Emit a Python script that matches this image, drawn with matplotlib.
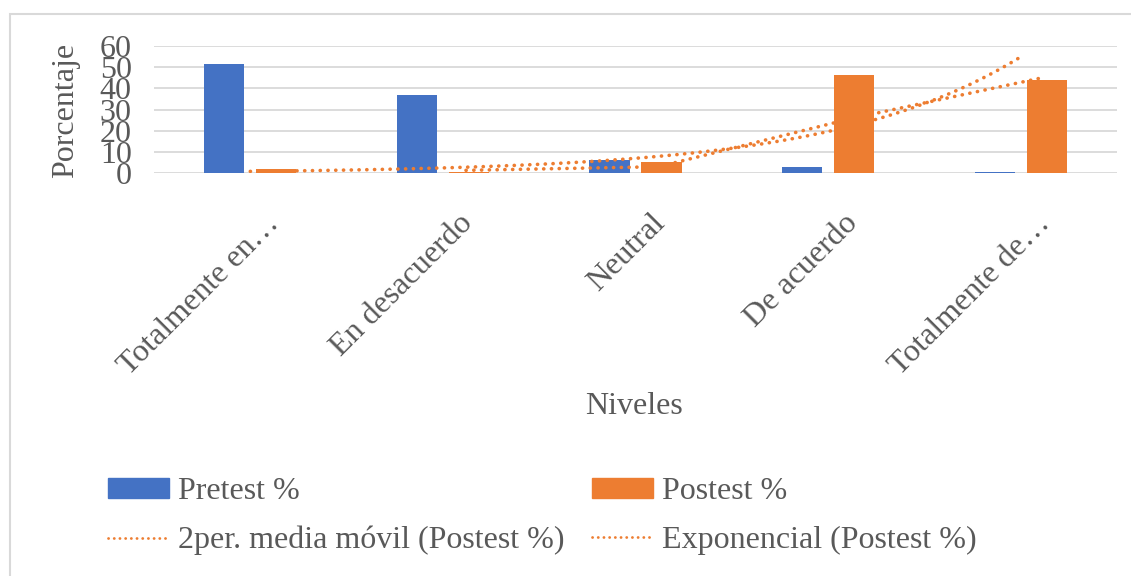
import numpy as np
import matplotlib
matplotlib.use("Agg")
import matplotlib.pyplot as plt
from matplotlib.patches import Patch, Rectangle
from matplotlib.lines import Line2D
from matplotlib.transforms import ScaledTranslation

# Survey levels and percentages per test
niveles = ["Totalmente en…", "En desacuerdo", "Neutral", "De acuerdo", "Totalmente de…"]
pretest = [51.3, 37.0, 6.3, 3.0, 0.7]
postest = [2.0, 0.8, 5.4, 46.2, 44.2]

azul = "#4472C4"
naranja = "#ED7D31"
gris = "#595959"
fs = 23

plt.rcParams["font.family"] = ["Liberation Serif", "DejaVu Serif"]
plt.rcParams["font.size"] = fs
plt.rcParams["text.color"] = gris

W, H = 1131, 576
fig = plt.figure(figsize=(W / 100, H / 100), dpi=100)
ax = fig.add_axes([154 / W, 1 - 173.3 / H, 963 / W, 127.3 / H])

x = np.arange(len(niveles))
post = np.array(postest)
ancho = 0.208
desp = 0.135

ax.bar(x - desp, pretest, ancho, color=azul, zorder=2)
ax.bar(x + desp, postest, ancho, color=naranja, zorder=2)

# trendlines on the Postest series
estilo = dict(color=naranja, lw=2.6, linestyle=(0, (0.05, 2.1)), dash_capstyle="round", zorder=3)
media = (post[1:] + post[:-1]) / 2
ax.plot(x[1:] + 0.12, media, **estilo)

b, ln_a = np.polyfit(x + 1, np.log(post), 1)
xs = np.linspace(0, len(x) - 1, 200)
ax.plot(xs, np.exp(ln_a + b * (xs + 1)), **estilo)

ax.set_xlim(-0.5, len(x) - 0.5)
ax.set_ylim(0, 60)
ax.set_yticks(range(0, 61, 10))
ax.grid(axis="y", color="#D9D9D9", lw=1.3, zorder=0)
for s in ax.spines.values():
    s.set_visible(False)
ax.tick_params(axis="y", length=0, pad=16, labelcolor=gris, labelsize=fs)
ax.tick_params(axis="x", length=0, pad=33, labelcolor=gris, labelsize=fs)
ax.set_xticks(x)
ax.set_xticklabels(niveles)
mover = ScaledTranslation(0.25, 0, fig.dpi_scale_trans)
for t in ax.get_xticklabels():
    t.set_rotation(45)
    t.set_ha("right")
    t.set_va("center")
    t.set_rotation_mode("anchor")
    t.set_transform(t.get_transform() + mover)

fig.text(66 / W, 1 - 110 / H, "Porcentaje", rotation=90, ha="center", va="center")
fig.text(634 / W, 1 - 407 / H, "Niveles", ha="center", va="center")

linea = dict(color=naranja, lw=2.0, linestyle=(0, (0.05, 2.0)), dash_capstyle="round")
handles = [
    Patch(color=azul, label="Pretest %"),
    Line2D([], [], label="2per. media móvil (Postest %)", **linea),
    Patch(color=naranja, label="Postest %"),
    Line2D([], [], label="Exponencial (Postest %)", **linea),
]
fig.legend(handles=handles, ncol=2, loc="upper left", bbox_to_anchor=(108 / W, 1 - 477 / H),
           frameon=False, borderpad=0, borderaxespad=0, handlelength=1.9, handleheight=0.6,
           handletextpad=0.3, columnspacing=0.85, labelspacing=0.62, fontsize=fs)

fig.add_artist(Rectangle((10 / W, -0.1), 1.2, 1.1 - 14 / H, transform=fig.transFigure,
                         fill=False, edgecolor="#D9D9D9", lw=1.5))

fig.savefig("out.png", dpi=100, facecolor="white")
